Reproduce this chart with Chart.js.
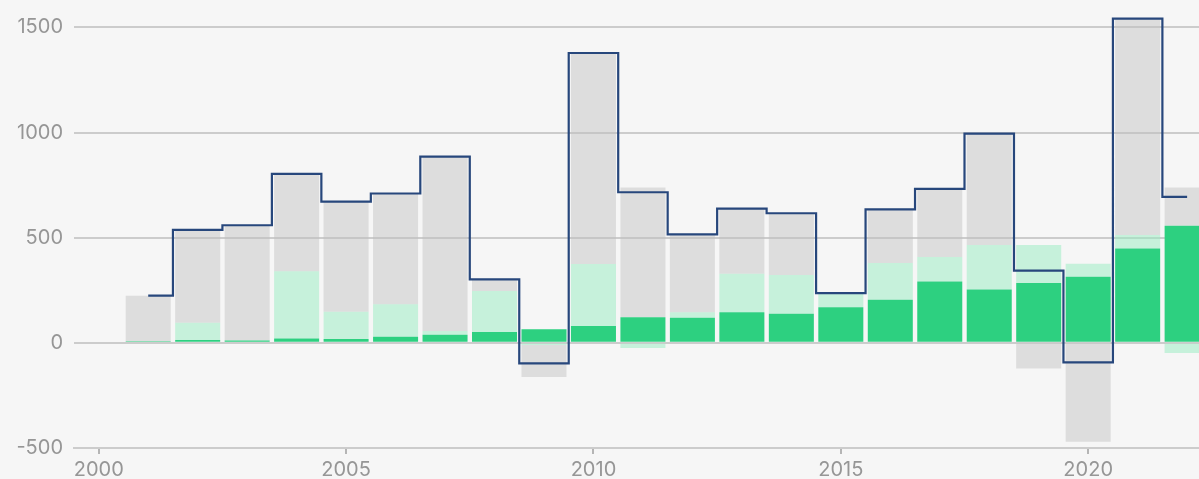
<!DOCTYPE html>
<html>
<head>
<meta charset="utf-8">
<script src="https://cdn.jsdelivr.net/npm/chart.js@4/dist/chart.umd.min.js"></script>
<style>
  html, body { margin: 0; padding: 0; background: #f6f6f6; overflow: hidden; }
  #wrap { width: 1199px; height: 479px; position: relative; }
</style>
</head>
<body>
<div id="wrap"><canvas id="chart"></canvas></div>
<script>
// --- data ---
const years = [2001, 2002, 2003, 2004, 2005, 2006, 2007, 2008, 2009, 2010, 2011,
               2012, 2013, 2014, 2015, 2016, 2017, 2018, 2019, 2020, 2021, 2022];

// stacked bar segments (bottom to top)
const darkGreen  = [7, 14, 11, 21, 18, 29, 38, 52, 64, 80, 122,
                    119, 146, 138, 169, 205, 292, 254, 284, 314, 449, 557];
const lightGreen = [0, 81, 0, 319, 130, 155, 18, 194, -10, 295, -24,
                    26, 183, 184, 67, 175, 116, 211, 181, 62, 64, -48];
const grey       = [217, 442, 548, 463, 523, 526, 829, 56, -152, 1003, 616,
                    371, 309, 294, 0, 255, 324, 530, -122, -470, 1028, 181];

// stepped net line
const net = [224, 537, 559, 803, 671, 710, 885, 302, -98, 1378, 716,
             516, 638, 616, 236, 635, 732, 995, 343, -93, 1541, 694];

const xTicks = [2000, 2005, 2010, 2015, 2020];
const yTicks = [-500, 0, 500, 1000, 1500];

const pts = arr => arr.map((v, i) => ({ x: years[i], y: v }));

const tickFont = { family: 'Inter', size: 20 };

const barBase = {
  type: 'bar',
  categoryPercentage: 1,
  barPercentage: 0.91,
  borderWidth: 0,
  order: 1
};

new Chart(document.getElementById('chart'), {
  type: 'bar',
  data: {
    datasets: [
      { ...barBase, label: 'dark', data: pts(darkGreen), backgroundColor: '#2dd080' },
      { ...barBase, label: 'light', data: pts(lightGreen), backgroundColor: 'rgba(150, 236, 192, 0.5)' },
      { ...barBase, label: 'grey', data: pts(grey), backgroundColor: 'rgba(190, 190, 190, 0.45)' },
      {
        type: 'line',
        label: 'net',
        data: pts(net),
        stack: 'net',
        stepped: 'middle',
        borderColor: '#27477c',
        borderWidth: 2.2,
        pointRadius: 0,
        fill: false,
        order: 0
      }
    ]
  },
  options: {
    responsive: true,
    maintainAspectRatio: false,
    animation: false,
    layout: { padding: 0 },
    plugins: {
      legend: { display: false },
      tooltip: { enabled: false }
    },
    scales: {
      x: {
        type: 'linear',
        stacked: true,
        offset: false,
        min: 1999.5,
        max: 2022.24,
        afterBuildTicks: s => { s.ticks = xTicks.map(v => ({ value: v })); },
        afterFit: s => { s.height = 31; s.paddingLeft = 0; s.paddingRight = 0; },
        grid: { offset: false, drawOnChartArea: false, drawTicks: true, tickLength: 6, color: '#b5b5b5', lineWidth: 2 },
        border: { display: true, color: '#cccccc', width: 2 },
        ticks: {
          color: '#969696',
          font: tickFont,
          padding: 4,
          maxRotation: 0,
          callback: v => String(v)
        }
      },
      y: {
        stacked: true,
        min: -500,
        max: 1630,
        afterBuildTicks: s => { s.ticks = yTicks.map(v => ({ value: v })); },
        afterFit: s => { s.width = 74; s.paddingTop = 0; s.paddingBottom = 0; },
        grid: { color: '#cccccc', lineWidth: 2, drawTicks: false },
        border: { display: false },
        ticks: {
          color: '#969696',
          font: tickFont,
          padding: 11,
          callback: v => String(v)
        }
      }
    }
  }
});
</script>
</body>
</html>
